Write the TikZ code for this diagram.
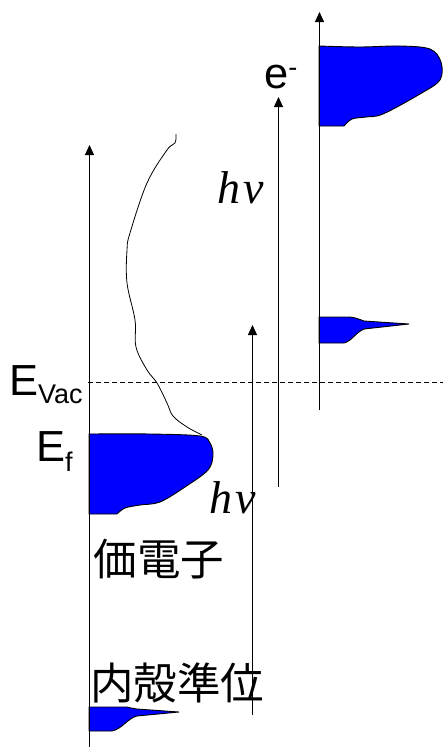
\documentclass[tikz,border=0pt]{standalone}
\usepackage{fontspec}
\setmainfont{Liberation Sans}
\newfontfamily\timesfont{Liberation Serif}
\newfontfamily\jpfont{Noto Sans CJK JP}
\usetikzlibrary{arrows.meta}
\definecolor{dosblue}{HTML}{0000FF}

\begin{document}
\begin{tikzpicture}[
  x=1pt, y=-1pt,
  >={Triangle[length=10pt, width=9pt]},
  axis/.style={->, line width=1pt},
  dos/.style={fill=dosblue, draw=black, line width=0.9pt},
  lbl/.style={inner sep=0pt, font=\fontsize{43.5}{50}\selectfont},
]
\useasboundingbox (0,0) rectangle (443,747);

% === Density of states (blue) ===
% valence band, left
\filldraw[dos] plot[smooth, tension=0.55] coordinates {
  (89,434) (150,434) (200,436) (210,443) (213,455) (208,470)
  (185,487) (160,502) (140,505) (125,508) (117,514)} -- (89,514) -- cycle;
% core level, left
\filldraw[dos] (89,707) -- (127,707)
  .. controls (131,708) .. (137,709) -- (179,712) -- (137,716)
  .. controls (128,718) and (122,729) .. (112,731) -- (89,731) -- cycle;
% photoelectrons from valence band, right
\filldraw[dos] plot[smooth, tension=0.55] coordinates {
  (319,46) (360,47) (400,46) (430,49) (441,62) (440,80)
  (420,94) (383,114) (366,117) (352,119) (344,126)} -- (319,126) -- cycle;
% photoelectrons from core level, right
\filldraw[dos] (319,317) -- (350,317)
  .. controls (356,318) .. (364,321) -- (409,324) -- (364,329)
  .. controls (355,333) and (352,341) .. (344,343) -- (319,343) -- cycle;

% Thin curve above E_f
\draw[line width=0.8pt] plot[smooth, tension=0.6] coordinates {
  (176,134) (175,143) (167,150) (147,183) (130,233) (127,250)
  (127,283) (135,320) (136,347) (147,370) (157,383) (167,403)
  (173,416) (187,427) (202,435)};

% === Vacuum level ===
\coordinate (vac-l) at (88,382);
\coordinate (vac-r) at (443,382);
\draw[line width=0.9pt, dash pattern=on 5pt off 3pt] (vac-l) -- (vac-r);

% === Energy axes and photon arrows ===
\coordinate (axL-bot) at (89.5,747);
\coordinate (axL-top) at (89.5,145);
\coordinate (axR-bot) at (319.5,410);
\coordinate (axR-top) at (319.5,12);
\coordinate (hvA-bot) at (252.5,715);
\coordinate (hvA-top) at (252.5,325);
\coordinate (hvB-bot) at (278.5,487);
\coordinate (hvB-top) at (278.5,97);
\draw[axis] (axL-bot) -- (axL-top);
\draw[axis] (axR-bot) -- (axR-top);
\draw[axis] (hvA-bot) -- (hvA-top);
\draw[axis] (hvB-bot) -- (hvB-top);

% === Labels ===
\node[lbl, anchor=base west] (evac) at (9,395)
  {E\raisebox{-8pt}{\fontsize{27}{27}\selectfont Vac}};
\node[lbl, anchor=base west] (ef) at (36,461)
  {E\raisebox{-10pt}{\fontsize{27}{27}\selectfont f}};
\node[lbl, anchor=base west] (elec) at (264,88)
  {e\raisebox{12pt}{\fontsize{27}{27}\selectfont -}};
\node[lbl, anchor=base west, font=\fontsize{46}{50}\selectfont] (hv-up) at (217,203)
  {\timesfont\itshape h\hspace{3pt}ν};
\node[lbl, anchor=base west, font=\fontsize{46}{50}\selectfont] (hv-low) at (209,513)
  {\timesfont\itshape h\hspace{3pt}ν};
\node[lbl] (valence) at (159,559) {\jpfont 価電子};
\node[lbl] (core) at (177,683) {\jpfont 内殻準位};

\end{tikzpicture}
\end{document}
